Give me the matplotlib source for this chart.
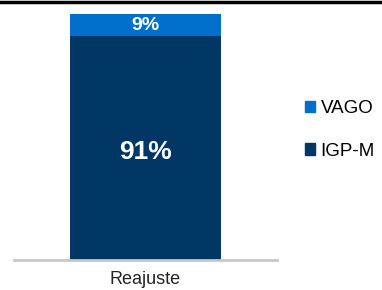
import matplotlib
matplotlib.use("Agg")
import matplotlib.pyplot as plt
from matplotlib.patches import Patch
from matplotlib.lines import Line2D

plt.rcParams['font.family'] = ['Liberation Sans', 'DejaVu Sans']

categories = ['Reajuste']
igpm = [91]
vago = [9]
series_names = ['VAGO', 'IGP-M']
colors = {'VAGO': '#0070CC', 'IGP-M': '#003764'}

fig = plt.figure(figsize=(3.82, 2.90), dpi=100)
ax = fig.add_axes([14/382, 30/290, 263/382, 246/290])

ax.bar(categories, igpm, width=0.574, color=colors['IGP-M'])
ax.bar(categories, vago, bottom=igpm, width=0.574, color=colors['VAGO'])

ax.text(0, igpm[0] / 2 - 1.5, f'{igpm[0]}%', ha='center', va='center',
        color='white', fontsize=19, fontweight='bold')
ax.text(0, igpm[0] + vago[0] / 2, f'{vago[0]}%', ha='center', va='center',
        color='white', fontsize=14, fontweight='bold')

ax.set_xlim(-0.5, 0.5)
ax.set_ylim(0, 100)
ax.set_yticks([])
for s in ['top', 'right', 'left']:
    ax.spines[s].set_visible(False)
ax.spines['bottom'].set_color('#c8c8c8')
ax.spines['bottom'].set_linewidth(2)
ax.tick_params(axis='x', length=0, labelsize=13, pad=8, colors='#222222')

handles = [Patch(color=colors[n]) for n in series_names]
fig.legend(handles, series_names, loc='center left', bbox_to_anchor=(297/382, 1 - 130/290),
           frameon=False, fontsize=13.5, handlelength=0.55, handleheight=0.55,
           handletextpad=0.3, labelspacing=1.35, borderaxespad=0)

fig.add_artist(Line2D([0, 1], [1 - 1.5/290, 1 - 1.5/290], color='black', linewidth=2.5,
                      transform=fig.transFigure))

fig.savefig('out.png', dpi=100)
